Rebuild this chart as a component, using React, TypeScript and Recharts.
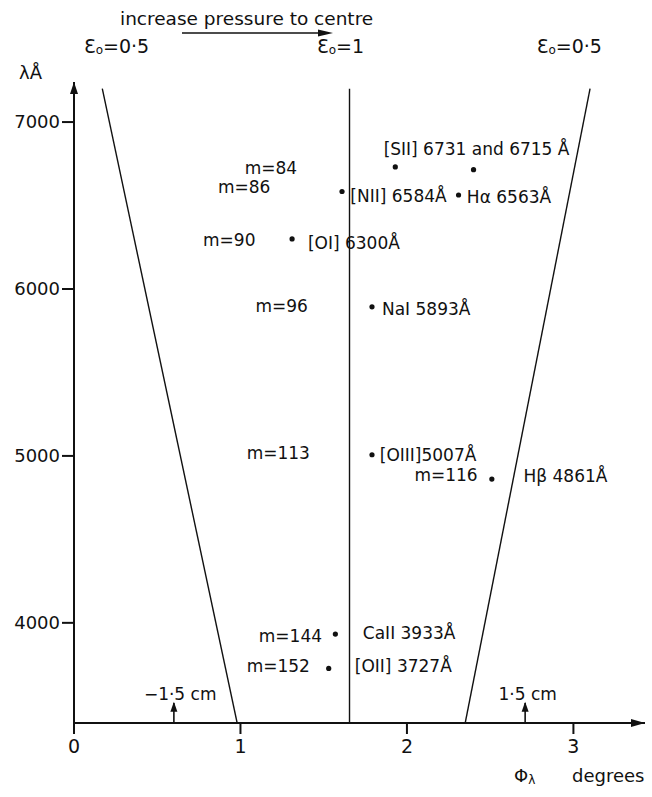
import React from 'react'
import { ComposedChart, Scatter, XAxis, YAxis, ReferenceDot, ReferenceLine } from 'recharts'

const FONT = "'DejaVu Sans', sans-serif"
const INK = '#111'

// observed emission lines: wavelength (Å) against interference angle phi (deg)
const LINE_NAMES = ['[SII]', '[SII]', '[NII]', 'Hα', '[OI]', 'NaI', '[OIII]', 'Hβ', 'CaII', '[OII]']
const WAVELENGTHS = [6731, 6715, 6584, 6563, 6300, 5893, 5007, 4861, 3933, 3727]
const PHI_OBS = [1.93, 2.4, 1.61, 2.31, 1.31, 1.79, 1.79, 2.51, 1.57, 1.53]

// eps0 boundaries, top and bottom ends
const EDGE_LAMBDA = [7200, 3400]
const EDGE_LEFT_PHI = [0.17, 0.98]
const EDGE_MID_PHI = [1.655, 1.655]
const EDGE_RIGHT_PHI = [3.1, 2.35]
const EDGE_VALUES = ['0·5', '1', '0·5']
const EDGE_LABEL_PHI = [0.06, 1.46, 2.78]
const EDGE_LABEL_LAMBDA = 7455

const X_TICKS = [0, 1, 2, 3]
const Y_TICKS = [4000, 5000, 6000, 7000]
const X_DOMAIN: [number, number] = [0, 3.43]
const Y_DOMAIN: [number, number] = [3400, 7240]

// +-1.5 cm marks on the axis
const CM_LABELS = ['−1·5 cm', '1·5 cm']
const CM_PHI = [0.6, 2.71]
const CM_LABEL_PHI = [0.42, 2.55]

// text annotations (order numbers and line ids)
const NOTES = [
  { text: '[SII] 6731 and 6715 Å', phi: 1.86, lambda: 6840, anchor: 'start' },
  { text: 'm=84', phi: 1.34, lambda: 6725, anchor: 'end' },
  { text: 'm=86', phi: 1.18, lambda: 6610, anchor: 'end' },
  { text: '[NII] 6584Å', phi: 1.66, lambda: 6557, anchor: 'start' },
  { text: 'Hα 6563Å', phi: 2.36, lambda: 6551, anchor: 'start' },
  { text: 'm=90', phi: 1.09, lambda: 6293, anchor: 'end' },
  { text: '[OI] 6300Å', phi: 1.405, lambda: 6275, anchor: 'start' },
  { text: 'm=96', phi: 1.405, lambda: 5898, anchor: 'end' },
  { text: 'NaI 5893Å', phi: 1.85, lambda: 5880, anchor: 'start' },
  { text: 'm=113', phi: 1.417, lambda: 5017, anchor: 'end' },
  { text: '[OIII]5007Å', phi: 1.837, lambda: 5005, anchor: 'start' },
  { text: 'm=116', phi: 2.425, lambda: 4885, anchor: 'end' },
  { text: 'Hβ 4861Å', phi: 2.7, lambda: 4880, anchor: 'start' },
  { text: 'm=144', phi: 1.49, lambda: 3922, anchor: 'end' },
  { text: 'CaII 3933Å', phi: 1.735, lambda: 3938, anchor: 'start' },
  { text: 'm=152', phi: 1.417, lambda: 3741, anchor: 'end' },
  { text: '[OII] 3727Å', phi: 1.687, lambda: 3741, anchor: 'start' },
]

const edge = (phis: number[]) => phis.map((phi, i) => ({ phi, lambda: EDGE_LAMBDA[i] }))
const points = WAVELENGTHS.map((lambda, i) => ({ phi: PHI_OBS[i], lambda, name: LINE_NAMES[i] }))

const noShape = () => <g />

function textShape(text: string, anchor: string) {
  return (p: any) => (
    <text x={p.cx} y={p.cy} textAnchor={anchor as any} dominantBaseline="central"
      fontFamily={FONT} fontSize={17} fill={INK}>{text}</text>
  )
}

function epsShape(value: string) {
  return (p: any) => (
    <text x={p.cx} y={p.cy} dominantBaseline="central" fontFamily={FONT} fontSize={19} fill={INK}>
      Ɛ<tspan fontSize={12} dy={4}>o</tspan><tspan dy={-4}>={value}</tspan>
    </text>
  )
}

const upHead = (p: any) => (
  <polygon points={`${p.cx - 4},${p.cy + 12} ${p.cx},${p.cy} ${p.cx + 4},${p.cy + 12}`} fill={INK} />
)
const rightHead = (p: any) => (
  <polygon points={`${p.cx - 14},${p.cy - 4} ${p.cx},${p.cy} ${p.cx - 14},${p.cy + 4}`} fill={INK} />
)
const smallUpHead = (p: any) => (
  <polygon points={`${p.cx - 3.5},${p.cy + 10} ${p.cx},${p.cy} ${p.cx + 3.5},${p.cy + 10}`} fill={INK} />
)

export default function App() {
  return (
    <div style={{ position: 'absolute', left: 0, top: 0, width: 652, height: 797, background: '#fff' }}>
      <ComposedChart width={652} height={797} margin={{ top: 82, right: 7, left: 14, bottom: 44 }}>
        <XAxis type="number" dataKey="phi" domain={X_DOMAIN} ticks={X_TICKS} allowDataOverflow
          height={30} tickSize={11} tickMargin={6}
          axisLine={{ stroke: INK, strokeWidth: 2 }} tickLine={{ stroke: INK, strokeWidth: 2 }}
          tick={{ fill: INK, fontSize: 19, fontFamily: FONT }} />
        <YAxis type="number" dataKey="lambda" domain={Y_DOMAIN} ticks={Y_TICKS} allowDataOverflow
          width={60} tickSize={12} tickMargin={2}
          axisLine={{ stroke: INK, strokeWidth: 2 }} tickLine={{ stroke: INK, strokeWidth: 2 }}
          tick={{ fill: INK, fontSize: 18, fontFamily: FONT }} />

        {[EDGE_LEFT_PHI, EDGE_MID_PHI, EDGE_RIGHT_PHI].map((phis, i) => (
          <Scatter key={'edge' + i} data={edge(phis)} line={{ stroke: INK, strokeWidth: 1.4 }}
            shape={noShape} isAnimationActive={false} />
        ))}
        <Scatter data={points} fill={INK} isAnimationActive={false}
          shape={(p: any) => <circle cx={p.cx} cy={p.cy} r={2.6} fill={INK} />} />

        {EDGE_VALUES.map((v, i) => (
          <ReferenceDot key={'eps' + i} x={EDGE_LABEL_PHI[i]} y={EDGE_LABEL_LAMBDA} r={0}
            ifOverflow="visible" shape={epsShape(v)} />
        ))}
        {NOTES.map((n) => (
          <ReferenceDot key={n.text} x={n.phi} y={n.lambda} r={0} ifOverflow="visible"
            shape={textShape(n.text, n.anchor)} />
        ))}
        {CM_LABELS.map((t, i) => (
          <ReferenceDot key={t} x={CM_LABEL_PHI[i]} y={3573} r={0} ifOverflow="visible"
            shape={textShape(t, 'start')} />
        ))}
        {CM_PHI.map((phi) => (
          <ReferenceLine key={'cm' + phi} segment={[{ x: phi, y: 3400 }, { x: phi, y: 3520 }]}
            stroke={INK} strokeWidth={1.6} />
        ))}
        {CM_PHI.map((phi) => (
          <ReferenceDot key={'cmh' + phi} x={phi} y={3528} r={0} ifOverflow="visible" shape={smallUpHead} />
        ))}

        <ReferenceDot x={0} y={Y_DOMAIN[1]} r={0} ifOverflow="visible" shape={upHead} />
        <ReferenceDot x={X_DOMAIN[1]} y={Y_DOMAIN[0]} r={0} ifOverflow="visible" shape={rightHead} />
      </ComposedChart>

      <svg width={652} height={797} style={{ position: 'absolute', left: 0, top: 0, pointerEvents: 'none' }}
        fontFamily={FONT} fill={INK}>
        <text x={120} y={18} dominantBaseline="central" fontSize={18.5}>increase pressure to centre</text>
        <line x1={182} y1={33} x2={322} y2={33} stroke={INK} strokeWidth={1.6} />
        <polygon points="318,29.5 333,33 318,36.5" />
        <text x={19} y={72} dominantBaseline="central" fontSize={18}>λÅ</text>
        <text x={514} y={775} dominantBaseline="central" fontSize={18}>
          Φ<tspan fontSize={12} dy={5}>λ</tspan>
        </text>
        <text x={572} y={775} dominantBaseline="central" fontSize={18}>degrees</text>
      </svg>
    </div>
  )
}
